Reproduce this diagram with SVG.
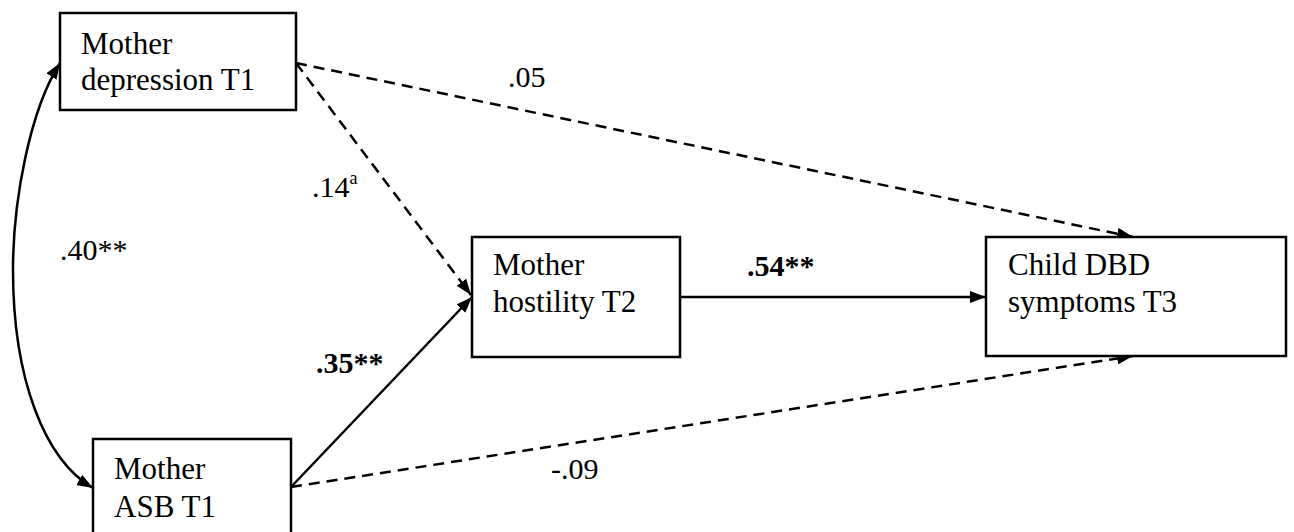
<svg xmlns="http://www.w3.org/2000/svg" width="1294" height="532" viewBox="0 0 1294 532">
<defs>
<style>
.box{fill:#fff;stroke:#000;stroke-width:2.5}
.t{font-family:'Liberation Serif','DejaVu Serif','Times New Roman',serif;font-size:31px;fill:#000}
.lbl{font-family:'Liberation Serif','DejaVu Serif','Times New Roman',serif;font-size:30px;fill:#000}
.b{font-weight:bold}
.solid{fill:none;stroke:#000;stroke-width:2.5}
.dash{fill:none;stroke:#000;stroke-width:2.5;stroke-dasharray:11 7}
</style>
<marker id="ah" viewBox="0 0 16 12" refX="16" refY="6" markerWidth="16" markerHeight="12" markerUnits="userSpaceOnUse" orient="auto-start-reverse">
<path d="M0,0 L16,6 L0,12 Z" fill="#000"/>
</marker>
</defs>
<rect width="1294" height="532" fill="#fff"/>
<g id="connectors">
<path class="solid" d="M60,63 C30,110 13,200 13,270 C13,380 45,460 93,488" marker-start="url(#ah)" marker-end="url(#ah)"/>
<line class="dash" x1="296" y1="63" x2="1133" y2="237" marker-end="url(#ah)"/>
<line class="dash" x1="296" y1="63" x2="471" y2="295" marker-end="url(#ah)"/>
<line class="solid" x1="291" y1="487" x2="472" y2="297" marker-end="url(#ah)"/>
<line class="dash" x1="291" y1="487" x2="1133" y2="356" marker-end="url(#ah)"/>
<line class="solid" x1="680" y1="297" x2="986" y2="297" marker-end="url(#ah)"/>
</g>
<g id="node-depression">
<rect class="box" x="60" y="13" width="236" height="97"/>
<text class="t" x="81" y="54">Mother</text>
<text class="t" x="81" y="90">depression T1</text>
</g>
<g id="node-asb">
<rect class="box" x="93" y="439" width="198" height="110"/>
<text class="t" x="114" y="479">Mother</text>
<text class="t" x="114" y="517">ASB T1</text>
</g>
<g id="node-hostility">
<rect class="box" x="472" y="237" width="208" height="120"/>
<text class="t" x="493" y="275">Mother</text>
<text class="t" x="493" y="312">hostility T2</text>
</g>
<g id="node-child">
<rect class="box" x="986" y="237" width="300" height="119"/>
<text class="t" x="1008" y="275">Child DBD</text>
<text class="t" x="1008" y="312">symptoms T3</text>
</g>
<g id="labels">
<text class="lbl" x="508" y="87">.05</text>
<text class="lbl" x="312" y="197">.14<tspan font-size="18" dy="-13">a</tspan></text>
<text class="lbl" x="60" y="260">.40**</text>
<text class="lbl b" x="316" y="373">.35**</text>
<text class="lbl b" x="747" y="276">.54**</text>
<text class="lbl" x="551" y="479">-.09</text>
</g>
</svg>
